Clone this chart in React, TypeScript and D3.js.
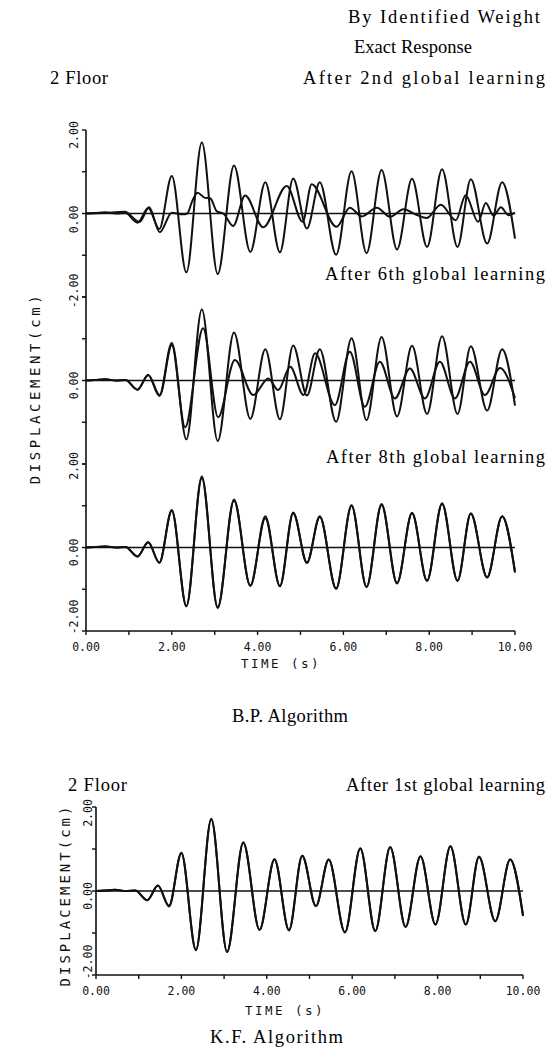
import React from 'react';
import * as d3 from 'd3';

// ---------- data (time in s, displacement in cm) ----------
const timeTickValues = [0, 1, 2, 3, 4, 5, 6, 7, 8, 9, 10];
const timeLabelValues = [0, 2, 4, 6, 8, 10];
const timeLabels = ['0.00', '2.00', '4.00', '6.00', '8.00', '10.00'];
const yTickValues = [-2, -1, 0, 1, 2];

// exact response (extrema)
const exactT = [0, 0.2, 0.45, 0.7, 0.92, 1.2, 1.45, 1.71, 2.0, 2.34, 2.70, 3.07, 3.45, 3.83, 4.18, 4.52, 4.83, 5.15, 5.45, 5.83, 6.19, 6.54, 6.89, 7.25, 7.60, 7.95, 8.30, 8.66, 8.97, 9.35, 9.70, 10.0];
const exactV = [0, 0.01, 0.03, 0.0, 0.01, -0.22, 0.13, -0.37, 0.90, -1.41, 1.70, -1.45, 1.15, -0.92, 0.75, -0.93, 0.84, -0.36, 0.75, -0.99, 1.01, -0.95, 1.04, -0.86, 0.83, -0.80, 1.06, -0.80, 0.82, -0.72, 0.75, -0.60];

// B.P. after 2nd global learning
const bp2T = [0, 0.4, 0.9, 1.25, 1.47, 1.72, 2.0, 2.25, 2.36, 2.47, 2.60, 2.76, 2.90, 3.05, 3.2, 3.43, 3.71, 4.13, 4.68, 5.05, 5.26, 5.84, 6.15, 6.43, 6.78, 7.09, 7.40, 7.70, 7.94, 8.27, 8.62, 8.85, 9.14, 9.32, 9.50, 9.67, 9.85, 10.0];
const bp2V = [0, 0.01, 0.04, -0.2, 0.15, -0.45, 0.02, -0.02, 0.0, 0.28, 0.50, 0.38, 0.36, 0.05, 0.0, -0.30, 0.43, -0.33, 0.66, -0.20, 0.70, -0.32, 0.14, -0.07, 0.14, -0.08, 0.10, -0.03, -0.11, 0.21, -0.16, 0.44, -0.2, 0.25, -0.05, 0.15, -0.04, 0.02];

// B.P. after 6th global learning
const bp6T = [0, 0.2, 0.45, 0.7, 0.92, 1.2, 1.45, 1.72, 2.0, 2.31, 2.73, 3.08, 3.47, 3.90, 4.25, 4.48, 4.76, 5.07, 5.34, 5.80, 6.15, 6.50, 6.85, 7.20, 7.55, 7.90, 8.25, 8.60, 8.95, 9.30, 9.65, 10.0];
const bp6V = [0, 0.01, 0.03, 0.0, 0.01, -0.22, 0.13, -0.35, 0.85, -1.12, 1.25, -0.88, 0.49, -0.35, 0.05, -0.23, 0.33, -0.35, 0.65, -0.59, 0.69, -0.63, 0.45, -0.43, 0.29, -0.43, 0.45, -0.43, 0.45, -0.35, 0.30, -0.42];

// B.P. after 8th global learning
const bp8T = [0, 0.2, 0.45, 0.7, 0.92, 1.2, 1.45, 1.71, 2.0, 2.34, 2.70, 3.07, 3.45, 3.83, 4.18, 4.52, 4.83, 5.15, 5.45, 5.83, 6.19, 6.54, 6.89, 7.25, 7.60, 7.95, 8.30, 8.66, 8.97, 9.35, 9.70, 10.0];
const bp8V = [0, 0.01, 0.02, 0.0, 0.01, -0.21, 0.12, -0.36, 0.88, -1.40, 1.66, -1.43, 1.12, -0.91, 0.70, -0.92, 0.82, -0.37, 0.73, -0.98, 1.00, -0.94, 1.02, -0.85, 0.82, -0.79, 1.04, -0.79, 0.81, -0.71, 0.74, -0.58];

// K.F. after 1st global learning
const kf1T = [0, 0.2, 0.45, 0.7, 0.92, 1.2, 1.45, 1.71, 2.0, 2.34, 2.70, 3.07, 3.45, 3.83, 4.18, 4.52, 4.83, 5.15, 5.45, 5.83, 6.19, 6.54, 6.89, 7.25, 7.60, 7.95, 8.30, 8.66, 8.97, 9.35, 9.70, 10.0];
const kf1V = [0, 0.01, 0.03, 0.0, 0.01, -0.22, 0.13, -0.35, 0.91, -1.40, 1.72, -1.45, 1.16, -0.93, 0.76, -0.94, 0.84, -0.36, 0.75, -0.98, 1.02, -0.96, 1.05, -0.85, 0.83, -0.80, 1.07, -0.80, 0.81, -0.72, 0.75, -0.57];

// per-panel tick labels of the B.P. chart
const bpPanelTickVals = [[2, 0, -2], [0, -2], [0, -2]];
const bpPanelTickLabels = [['2.00', '0.00', '-2.00'], ['0.00', '2.00'], ['0.00', '-2.00']];
const kfTickVals = [2, 0, -2];
const kfTickLabels = ['2.00', '0.00', '-2.00'];

const zip = (t: number[], v: number[]) => t.map((d, i) => [d, v[i]] as [number, number]);

const SERIF = '"Liberation Serif", "DejaVu Serif", serif';
const MONO = '"DejaVu Sans Mono", "Liberation Mono", monospace';

export default function App() {
  const W = 548, H = 1052;

  // ---- B.P. chart geometry ----
  const xTop = d3.scaleLinear().domain([0, 10]).range([86, 515]);
  const panelH = 167;
  const panelTops = [130, 297, 464];
  const yPanels = panelTops.map(t => d3.scaleLinear().domain([-2, 2]).range([t + panelH, t]));
  const topAxisY = panelTops[2] + panelH;

  // ---- K.F. chart geometry ----
  const xBot = d3.scaleLinear().domain([0, 10]).range([96, 523]);
  const yBot = d3.scaleLinear().domain([-2, 2]).range([975, 807]);

  const mkLine = (x: d3.ScaleLinear<number, number>, y: d3.ScaleLinear<number, number>) =>
    d3.line<[number, number]>().x(d => x(d[0])).y(d => y(d[1])).curve(d3.curveMonotoneX);

  const learned = [zip(bp2T, bp2V), zip(bp6T, bp6V), zip(bp8T, bp8V)];
  const exact = zip(exactT, exactV);

  const lineStyle = { fill: 'none', stroke: '#111', strokeWidth: 2, strokeLinejoin: 'round' as const };

  const bpLabelShift = [[5, 6, -6], [5, 2], [5, -14]];
  const FS = 18.5;

  return (
    <svg width={W} height={H} style={{ position: 'absolute', left: 0, top: 0, background: '#fff' }}>
      <rect x={0} y={0} width={W} height={H} fill="#fff" />

      {/* ===== headings ===== */}
      <text x={348} y={23} fontFamily={SERIF} fontSize={FS} textLength={192} lengthAdjust="spacing">By Identified Weight</text>
      <text x={354} y={53} fontFamily={SERIF} fontSize={FS} textLength={118} lengthAdjust="spacing">Exact Response</text>
      <text x={50} y={84} fontFamily={SERIF} fontSize={FS} textLength={58} lengthAdjust="spacing">2 Floor</text>
      <text x={303} y={84} fontFamily={SERIF} fontSize={FS} textLength={242} lengthAdjust="spacing">After 2nd global learning</text>
      <text x={325} y={280} fontFamily={SERIF} fontSize={FS} textLength={220} lengthAdjust="spacing">After 6th global learning</text>
      <text x={326} y={463} fontFamily={SERIF} fontSize={FS} textLength={219} lengthAdjust="spacing">After 8th global learning</text>

      {/* ===== B.P. chart ===== */}
      <line x1={86} x2={86} y1={panelTops[0]} y2={topAxisY} stroke="#111" strokeWidth={1.6} />
      {yPanels.map((y, pi) => yTickValues.map(v => (
        <line key={`yt${pi}${v}`} x1={82} x2={86} y1={y(v)} y2={y(v)} stroke="#111" strokeWidth={1.4} />
      )))}
      {yPanels.map((y, pi) => bpPanelTickVals[pi].map((v, i) => (
        <text key={`yl${pi}${i}`} transform={`translate(78,${y(v) + bpLabelShift[pi][i]}) rotate(-90)`}
          textAnchor="middle" fontFamily={MONO} fontSize={11.5} fill="#111">{bpPanelTickLabels[pi][i]}</text>
      )))}
      <line x1={86} x2={515} y1={topAxisY} y2={topAxisY} stroke="#111" strokeWidth={1.6} />
      {timeTickValues.map(t => (
        <line key={`xt${t}`} x1={xTop(t)} x2={xTop(t)} y1={topAxisY} y2={topAxisY + 4} stroke="#111" strokeWidth={1.4} />
      ))}
      {timeLabelValues.map((t, i) => (
        <text key={`xl${t}`} x={xTop(t)} y={topAxisY + 20} textAnchor="middle" fontFamily={MONO} fontSize={11.5} fill="#111">{timeLabels[i]}</text>
      ))}
      <text x={281} y={topAxisY + 37} textAnchor="middle" fontFamily={MONO} fontSize={12.5} letterSpacing={2.5} fill="#111">TIME (s)</text>
      <text transform={`translate(40,388) rotate(-90)`} textAnchor="middle" fontFamily={MONO} fontSize={14} letterSpacing={3.6} fill="#111">DISPLACEMENT(cm)</text>

      {yPanels.map((y, pi) => (
        <g key={`p${pi}`}>
          <line x1={86} x2={515} y1={y(0)} y2={y(0)} stroke="#111" strokeWidth={1.6} />
          <path d={mkLine(xTop, y)(exact) || ''} style={lineStyle} />
          <path d={mkLine(xTop, y)(learned[pi]) || ''} style={lineStyle} />
        </g>
      ))}

      <text x={232} y={722} fontFamily={SERIF} fontSize={FS} textLength={116} lengthAdjust="spacing">B.P. Algorithm</text>

      {/* ===== K.F. chart ===== */}
      <text x={68} y={791} fontFamily={SERIF} fontSize={FS} textLength={59} lengthAdjust="spacing">2 Floor</text>
      <text x={346} y={791} fontFamily={SERIF} fontSize={FS} textLength={199} lengthAdjust="spacing">After 1st global learning</text>

      <line x1={96} x2={96} y1={807} y2={975} stroke="#111" strokeWidth={1.6} />
      {yTickValues.map(v => (
        <line key={`byt${v}`} x1={92} x2={96} y1={yBot(v)} y2={yBot(v)} stroke="#111" strokeWidth={1.4} />
      ))}
      {kfTickVals.map((v, i) => (
        <text key={`byl${i}`} transform={`translate(92,${yBot(v) + [6, 5, -13][i]}) rotate(-90)`}
          textAnchor="middle" fontFamily={MONO} fontSize={11.5} fill="#111">{kfTickLabels[i]}</text>
      ))}
      <line x1={96} x2={523} y1={975} y2={975} stroke="#111" strokeWidth={1.6} />
      {timeTickValues.map(t => (
        <line key={`bxt${t}`} x1={xBot(t)} x2={xBot(t)} y1={975} y2={979} stroke="#111" strokeWidth={1.4} />
      ))}
      {timeLabelValues.map((t, i) => (
        <text key={`bxl${t}`} x={xBot(t)} y={995} textAnchor="middle" fontFamily={MONO} fontSize={11.5} fill="#111">{timeLabels[i]}</text>
      ))}
      <text x={285} y={1015} textAnchor="middle" fontFamily={MONO} fontSize={12.5} letterSpacing={2.5} fill="#111">TIME (s)</text>
      <text transform={`translate(70,895) rotate(-90)`} textAnchor="middle" fontFamily={MONO} fontSize={14} letterSpacing={3} fill="#111">DISPLACEMENT(cm)</text>

      <line x1={96} x2={523} y1={yBot(0)} y2={yBot(0)} stroke="#111" strokeWidth={1.6} />
      <path d={mkLine(xBot, yBot)(exact) || ''} style={lineStyle} />
      <path d={mkLine(xBot, yBot)(zip(kf1T, kf1V)) || ''} style={lineStyle} />

      <text x={210} y={1043} fontFamily={SERIF} fontSize={FS} textLength={133} lengthAdjust="spacing">K.F. Algorithm</text>
    </svg>
  );
}
